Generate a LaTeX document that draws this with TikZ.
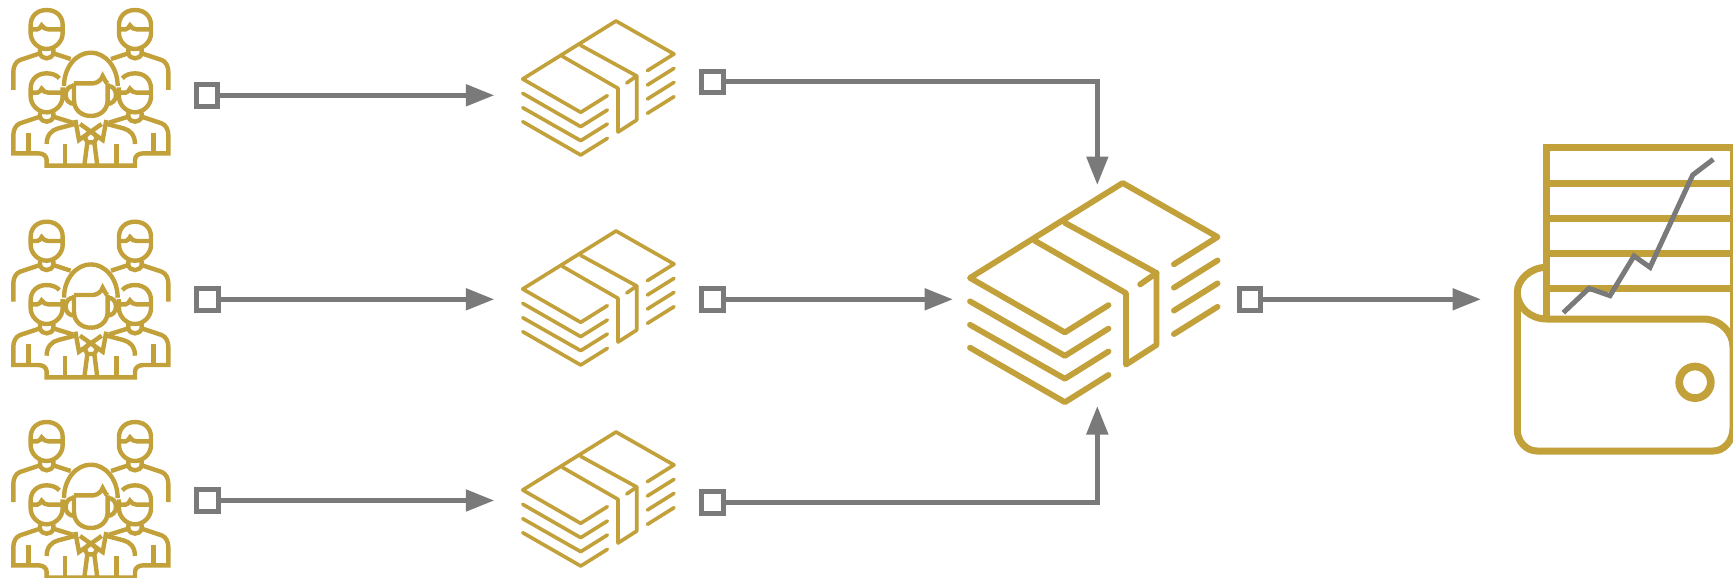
\documentclass[tikz,border=0pt]{standalone}
\usetikzlibrary{arrows.meta}
\definecolor{gold}{HTML}{C2A03A}
\definecolor{conngray}{HTML}{7A7A7A}
\tikzset{
  x=1pt,y=-1pt,
  conn/.style={draw=conngray,line width=5pt,-{Triangle[length=28.5pt,width=21pt]}},
  sq/.style={draw=conngray,line width=5pt,minimum size=21.7pt,inner sep=0pt,fill=white},
  peopleline/.style={draw=gold,line width=4.4pt,line join=miter},
  stackline/.style={draw=gold,line cap=round,line join=round},
  walletline/.style={draw=gold,line width=7pt},
  trendline/.style={draw=conngray,line width=5pt}
}
\newcommand{\halfpeople}{%
  % back head
  \draw[peopleline] (140,30) .. controls (110,30) and (92,50) .. (92,75) -- (92,100)
     .. controls (92,125) and (115,147) .. (140,147) .. controls (165,147) and (188,125) .. (188,100)
     -- (188,75) .. controls (188,50) and (170,30) .. (140,30) -- cycle;
  % back neck and shoulders
  \draw[peopleline] (120,147) -- (120,160) .. controls (125,180) and (155,180) .. (160,160) -- (160,147);
  \draw[peopleline] (120,160) -- (60,180) .. controls (47,185) and (40,200) .. (40,215) -- (40,270);
  \draw[peopleline] (160,160) -- (212,177);
  % front head
  \draw[peopleline] (178,235) .. controls (170,225) and (155,220) .. (140,220)
     .. controls (110,220) and (92,240) .. (92,265) -- (92,290)
     .. controls (92,315) and (115,337) .. (140,337) .. controls (165,337) and (188,315) .. (188,290) -- (188,262);
  % front neck and body
  \draw[peopleline] (120,337) -- (120,350) .. controls (125,370) and (155,370) .. (160,350) -- (160,337);
  \draw[peopleline] (120,350) -- (60,370) .. controls (47,375) and (40,390) .. (40,405) -- (40,460)
     -- (115,460) .. controls (130,460) and (140,468) .. (140,480) -- (140,497) -- (273,497);
  \draw[peopleline] (85,398) -- (85,460);
  \draw[peopleline] (160,350) -- (218,368);
  % centre person
  \draw[peopleline] (140,432) .. controls (140,405) and (155,390) .. (175,385) -- (232,370);
  \draw[peopleline] (195,432) -- (195,497);
  \draw[peopleline] (226,360) -- (237,420) -- (305,372);
  \draw[peopleline] (272.5,390) -- (254,412) -- (262,427) -- (272.5,427);
  \draw[peopleline] (262,427) -- (253,497);
  \draw[peopleline] (192,258) .. controls (192,200) and (230,158) .. (272.5,158);
  \draw[peopleline] (222,250) -- (222,300) .. controls (222,330) and (245,348) .. (272.5,348);
  \draw[peopleline] (222,258) .. controls (205,258) and (197,270) .. (197,285) .. controls (197,300) and (207,312) .. (225,312);
}
\newcommand{\peopleicon}[1]{%
  \begin{scope}[shift={(0,#1)},x=0.33333pt,y=-0.33333pt]
    \halfpeople
    \begin{scope}[shift={(545,0)},xscale=-1]
      \halfpeople
    \end{scope}
    \draw[peopleline] (92,88) -- (112,88) .. controls (118,87) and (122,82) .. (125,76) .. controls (130,84) and (136,88) .. (145,88) -- (188,88);
    \draw[peopleline] (357,88) -- (377,88) .. controls (383,87) and (387,82) .. (390,76) .. controls (395,84) and (401,88) .. (410,88) -- (453,88);
    \draw[peopleline] (92,278) -- (112,278) .. controls (118,277) and (122,272) .. (125,266) .. controls (130,274) and (136,278) .. (145,278) -- (188,278);
    \draw[peopleline] (357,278) -- (377,278) .. controls (383,277) and (387,272) .. (390,266) .. controls (395,274) and (401,278) .. (410,278) -- (453,278);
    \draw[peopleline] (222,250) -- (280,250) .. controls (295,248) and (305,238) .. (308,228) -- (318,246) -- (323,250);
  \end{scope}
}
\newcommand{\stackicon}[4]{%
  \begin{scope}[shift={(#1,#2)},x=#3,y=-#3,line width=#4]
    \draw[stackline] (374,149) -- (454,99) -- (280,0) -- (0,174) -- (174,274) -- (254,224);
    \draw[stackline] (119,106) -- (286,202) -- (286,333) -- (342,297) -- (342,165) -- (312,186);
    \draw[stackline] (174,73) -- (342,165);
    \draw[stackline] (0,217) -- (174,317) -- (254,267);
    \draw[stackline] (0,260) -- (174,359) -- (254,309);
    \draw[stackline] (0,302) -- (174,402) -- (254,352);
    \draw[stackline] (374,192) -- (454,142);
    \draw[stackline] (374,234) -- (454,184);
    \draw[stackline] (374,277) -- (454,227);
  \end{scope}
}
\begin{document}
\begin{tikzpicture}
  \path[use as bounding box,fill=white] (0,0) rectangle (1733,578);
  \clip (0,0) rectangle (1733,578);

  \peopleicon{0}
  \peopleicon{211.7}
  \peopleicon{412}

  \stackicon{522.7}{21}{0.33333pt}{3.6pt}
  \stackicon{522.7}{231}{0.33333pt}{3.6pt}
  \stackicon{522.7}{432}{0.33333pt}{3.6pt}
  \stackicon{970}{183}{0.5453pt}{5.8pt}

  % wallet
  \draw[walletline] (1546.7,320) -- (1546.7,147.3) -- (1736,147.3);
  \draw[walletline] (1733,147.3) -- (1733,340);
  \draw[walletline] (1546.7,183.3) -- (1733,183.3);
  \draw[walletline] (1546.7,218.3) -- (1733,218.3);
  \draw[walletline] (1546.7,253.3) -- (1733,253.3);
  \draw[walletline] (1546.7,288.3) -- (1733,288.3);
  \draw[walletline] (1546.7,267.3) .. controls (1530,267.3) and (1517.3,280) .. (1517.3,292.5)
     .. controls (1517.3,307) and (1530,319) .. (1546.7,319) -- (1703,319)
     .. controls (1720,319) and (1733,332) .. (1733,347) -- (1733,428)
     .. controls (1733,441) and (1724,451) .. (1713,451) -- (1537,451)
     .. controls (1526,451) and (1517.3,441) .. (1517.3,430) -- (1517.3,292);
  \draw[walletline,line width=7.7pt] (1695,382.3) circle[radius=15.8];
  \draw[trendline] (1563.3,312.7) -- (1589,288.3) -- (1610,295.7) -- (1634,256) -- (1650,267.3) -- (1692.7,175) -- (1713.3,159.3);

  % connectors
  \coordinate (t1) at (494.3,95.3);
  \coordinate (t2) at (494.3,299.3);
  \coordinate (t3) at (494.3,500.5);
  \coordinate (tb1) at (1097.3,185);
  \coordinate (tb2) at (953,299.3);
  \coordinate (tb3) at (1097.3,406);
  \coordinate (tw) at (1481,299.3);

  \node[sq] (a1) at (206.9,95.3) {};
  \node[sq] (a2) at (207.3,299.3) {};
  \node[sq] (a3) at (207.3,500.5) {};
  \node[sq] (b1) at (712.5,82) {};
  \node[sq] (b2) at (712.5,299.3) {};
  \node[sq] (b3) at (712.5,502.3) {};
  \node[sq] (c)  at (1250,299.3) {};

  \draw[conn] (a1) -- (t1);
  \draw[conn] (a2) -- (t2);
  \draw[conn] (a3) -- (t3);
  \draw[conn] (b1) -| (tb1);
  \draw[conn] (b2) -- (tb2);
  \draw[conn] (b3) -| (tb3);
  \draw[conn] (c) -- (tw);
\end{tikzpicture}
\end{document}
